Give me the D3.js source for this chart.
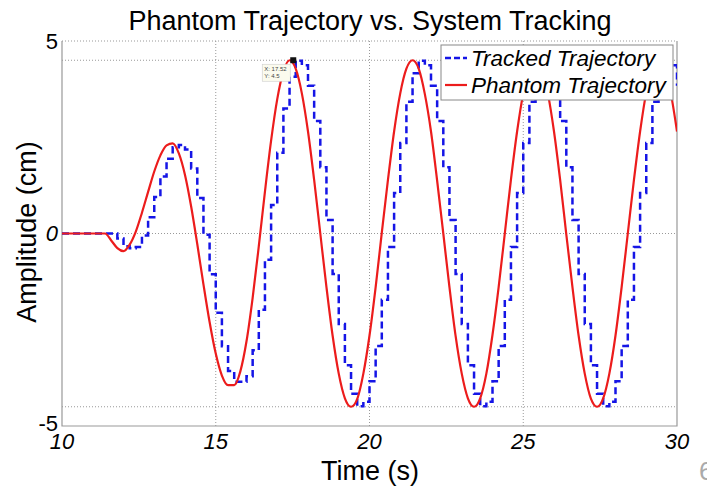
<!DOCTYPE html>
<html>
<head>
<meta charset="utf-8">
<script src="https://cdn.jsdelivr.net/npm/d3@7.9.0/dist/d3.min.js"></script>
<style>
  body { margin: 0; background: #fff; }
  svg { display: block; font-family: "Liberation Sans", Arial, sans-serif; }
</style>
</head>
<body>
<svg id="chart" width="707" height="488"></svg>
<script>
// sample times (s)
const times = [
  10.0, 10.2, 10.4, 10.6, 10.8, 11.0, 11.2, 11.4, 11.6, 11.8,
  12.0, 12.2, 12.4, 12.6, 12.8, 13.0, 13.2, 13.4, 13.6, 13.8,
  14.0, 14.2, 14.4, 14.6, 14.8, 15.0, 15.2, 15.4, 15.6, 15.8,
  16.0, 16.2, 16.4, 16.6, 16.8, 17.0, 17.2, 17.4, 17.6, 17.8,
  18.0, 18.2, 18.4, 18.6, 18.8, 19.0, 19.2, 19.4, 19.6, 19.8,
  20.0, 20.2, 20.4, 20.6, 20.8, 21.0, 21.2, 21.4, 21.6, 21.8,
  22.0, 22.2, 22.4, 22.6, 22.8, 23.0, 23.2, 23.4, 23.6, 23.8,
  24.0, 24.2, 24.4, 24.6, 24.8, 25.0, 25.2, 25.4, 25.6, 25.8,
  26.0, 26.2, 26.4, 26.6, 26.8, 27.0, 27.2, 27.4, 27.6, 27.8,
  28.0, 28.2, 28.4, 28.6, 28.8, 29.0, 29.2, 29.4, 29.6, 29.8,
  30.0
];

// phantom trajectory (cm)
const phantom = [
  0, 0, 0, 0, 0, 0, 0, 0, -0.18, -0.38,
  -0.46, -0.29, 0.05, 0.54, 1.08, 1.61, 2.03, 2.29, 2.34, 2.08,
  1.52, 0.70, -0.28, -1.32, -2.30, -3.12, -3.69, -3.94, -3.94, -3.58,
  -2.80, -1.67, -0.33, 1.09, 2.41, 3.49, 4.21, 4.50, 4.28, 3.64,
  2.65, 1.39, 0.00, -1.39, -2.65, -3.64, -4.28, -4.50, -4.30, -3.64,
  -2.65, -1.39, 0.02, 1.39, 2.65, 3.64, 4.28, 4.50, 4.28, 3.62,
  2.65, 1.37, 0.00, -1.39, -2.66, -3.64, -4.28, -4.50, -4.28, -3.64,
  -2.63, -1.39, 0.00, 1.40, 2.65, 3.64, 4.28, 4.49, 4.28, 3.64,
  2.65, 1.39, -0.02, -1.39, -2.65, -3.64, -4.29, -4.50, -4.28, -3.64,
  -2.65, -1.39, 0.00, 1.39, 2.65, 3.66, 4.28, 4.50, 4.28, 3.64,
  2.65
];

// tracked trajectory (cm), held between samples
const tracked = [
  0, 0, 0, 0, 0, 0, 0, 0, 0, -0.13,
  -0.33, -0.38, -0.35, -0.05, 0.42, 0.95, 1.48, 1.94, 2.24, 2.30,
  2.18, 1.69, 0.92, -0.03, -1.06, -2.06, -2.93, -3.57, -3.85, -3.85,
  -3.71, -3.03, -1.98, -0.68, 0.74, 2.10, 3.25, 4.07, 4.49, 4.37,
  3.84, 2.92, 1.72, 0.35, -1.05, -2.35, -3.42, -4.16, -4.49, -4.37,
  -3.84, -2.92, -1.72, -0.35, 1.05, 2.35, 3.42, 4.16, 4.49, 4.37,
  3.84, 2.92, 1.72, 0.35, -1.05, -2.35, -3.42, -4.16, -4.49, -4.37,
  -3.84, -2.92, -1.72, -0.35, 1.05, 2.35, 3.42, 4.16, 4.49, 4.37,
  3.84, 2.92, 1.72, 0.35, -1.05, -2.35, -3.42, -4.16, -4.49, -4.37,
  -3.84, -2.92, -1.72, -0.35, 1.05, 2.35, 3.42, 4.16, 4.49, 4.37,
  3.84
];

const xTicks = [10, 15, 20, 25, 30];
const yTicks = [-5, 0, 5];
const refLines = [-4.5, 4.5];
const legendLabels = ['Tracked Trajectory', 'Phantom Trajectory'];
const tip = { x: 17.52, y: 4.5 };

const svg = d3.select('#chart');
const pLeft = 62, pRight = 677, pTop = 41, pBottom = 426;

const x = d3.scaleLinear().domain([10, 30]).range([pLeft, pRight]);
const y = d3.scaleLinear().domain([-5, 5]).range([pBottom, pTop]);

// title
svg.append('text')
  .attr('x', 370).attr('y', 30)
  .attr('text-anchor', 'middle')
  .attr('font-size', 27)
  .text('Phantom Trajectory vs. System Tracking');

// grid (dotted)
const grid = svg.append('g')
  .attr('stroke', '#999')
  .attr('stroke-width', 1)
  .attr('stroke-dasharray', '1,2');

xTicks.slice(1, -1).forEach(t => {
  grid.append('line')
    .attr('x1', x(t)).attr('x2', x(t))
    .attr('y1', pTop).attr('y2', pBottom);
});
[0, 5].concat(refLines).forEach(v => {
  grid.append('line')
    .attr('x1', pLeft).attr('x2', pRight)
    .attr('y1', y(v)).attr('y2', y(v));
});

// box (left, bottom, right solid)
svg.append('path')
  .attr('d', `M${pLeft},${pTop}V${pBottom}H${pRight}V${pTop}`)
  .attr('fill', 'none')
  .attr('stroke', '#999')
  .attr('stroke-width', 1.2);

// tick labels
svg.append('g').selectAll('text')
  .data(xTicks).join('text')
  .attr('x', d => x(d)).attr('y', 449)
  .attr('text-anchor', 'middle')
  .attr('font-size', 22)
  .attr('font-style', 'italic')
  .text(d => d);

svg.append('g').selectAll('text')
  .data(yTicks).join('text')
  .attr('x', 58).attr('y', d => y(d) + (d === -5 ? 5 : 7.5))
  .attr('text-anchor', 'end')
  .attr('font-size', 22)
  .attr('font-style', d => d === 0 ? 'italic' : 'normal')
  .text(d => d);

// axis labels
svg.append('text')
  .attr('x', 370).attr('y', 480)
  .attr('text-anchor', 'middle')
  .attr('font-size', 27)
  .text('Time (s)');

svg.append('text')
  .attr('transform', 'translate(36,232) rotate(-90)')
  .attr('text-anchor', 'middle')
  .attr('font-size', 27)
  .text('Amplitude (cm)');

// clipped lines
svg.append('clipPath').attr('id', 'plot-clip')
  .append('rect')
  .attr('x', pLeft).attr('y', pTop - 2)
  .attr('width', pRight - pLeft).attr('height', pBottom - pTop + 4);

const plot = svg.append('g').attr('clip-path', 'url(#plot-clip)');

const trackedLine = d3.line()
  .x((d, i) => x(times[i]))
  .y(d => y(d))
  .curve(d3.curveStepAfter);

const phantomLine = d3.line()
  .x((d, i) => x(times[i]))
  .y(d => y(d))
  .curve(d3.curveMonotoneX);

plot.append('path')
  .attr('d', trackedLine(tracked))
  .attr('fill', 'none')
  .attr('stroke', '#1515e6')
  .attr('stroke-width', 2.5)
  .attr('stroke-dasharray', '7,4');

plot.append('path')
  .attr('d', phantomLine(phantom))
  .attr('fill', 'none')
  .attr('stroke', '#ec1c1c')
  .attr('stroke-width', 2.2);

// data tip
svg.append('rect')
  .attr('x', x(tip.x) - 31).attr('y', y(tip.y) + 4)
  .attr('width', 28).attr('height', 17)
  .attr('fill', '#fbfbee')
  .attr('stroke', '#ccc')
  .attr('stroke-width', 0.6);
svg.append('text')
  .attr('x', x(tip.x) - 29).attr('y', y(tip.y) + 11)
  .attr('font-size', 6).attr('fill', '#444')
  .text(`X: ${tip.x}`);
svg.append('text')
  .attr('x', x(tip.x) - 29).attr('y', y(tip.y) + 18)
  .attr('font-size', 6).attr('fill', '#444')
  .text(`Y: ${tip.y}`);
svg.append('rect')
  .attr('x', x(tip.x) - 3).attr('y', y(tip.y) - 3)
  .attr('width', 6).attr('height', 6)
  .attr('fill', '#111');

// legend
const legend = svg.append('g');
legend.append('rect')
  .attr('x', 441).attr('y', 45)
  .attr('width', 232).attr('height', 55)
  .attr('fill', '#fff')
  .attr('stroke', '#888')
  .attr('stroke-width', 1);

const legendStyles = [
  { color: '#1515e6', dash: '6,3', w: 2.5 },
  { color: '#ec1c1c', dash: null, w: 2.2 }
];
legendLabels.forEach((label, i) => {
  const ly = 58 + i * 27;
  legend.append('line')
    .attr('x1', 445).attr('x2', 467)
    .attr('y1', ly).attr('y2', ly)
    .attr('stroke', legendStyles[i].color)
    .attr('stroke-width', legendStyles[i].w)
    .attr('stroke-dasharray', legendStyles[i].dash);
  legend.append('text')
    .attr('x', 471).attr('y', ly + 8)
    .attr('font-size', 22.5)
    .attr('font-style', 'italic')
    .text(label);
});

// page number fragment at the edge
svg.append('text')
  .attr('x', 699).attr('y', 480)
  .attr('font-size', 26)
  .attr('fill', '#aaa')
  .text('6');
</script>
</body>
</html>
